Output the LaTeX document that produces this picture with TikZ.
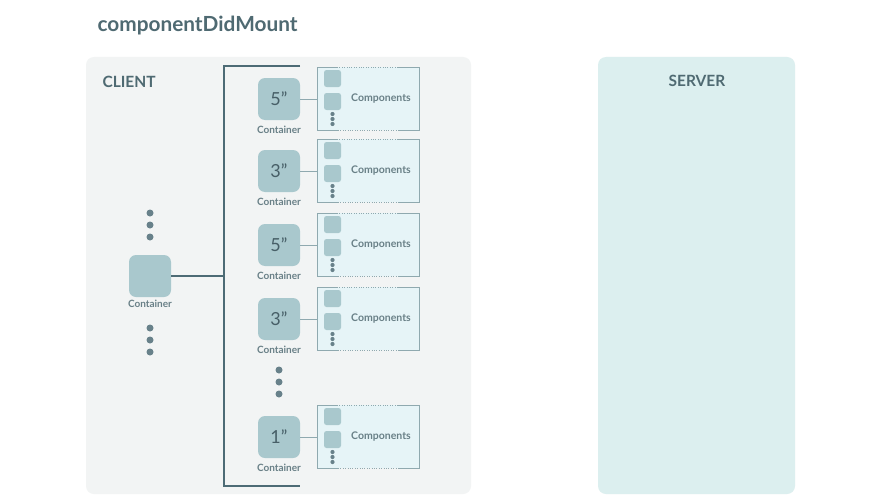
\documentclass[tikz,border=0pt]{standalone}
\usepackage{fontspec}
\setmainfont{Lato}
\definecolor{clientbg}{HTML}{F2F4F4}
\definecolor{serverbg}{HTML}{DCEFEF}
\definecolor{cont}{HTML}{A9C8CD}
\definecolor{dark}{HTML}{4D6B75}
\definecolor{txt}{HTML}{4F6A72}
\definecolor{compbg}{HTML}{E6F4F7}
\definecolor{compline}{HTML}{8FA9AF}
\begin{document}
\begin{tikzpicture}[x=1pt,y=-1pt,
  panel/.style={rounded corners=8pt, draw=none},
  contbox/.style={fill=cont, rounded corners=7pt, minimum width=42pt, minimum height=42pt, inner sep=0pt, font=\fontsize{18}{18}\selectfont, text=txt!90!black},
  smallbox/.style={fill=cont, rounded corners=2.5pt, minimum width=17pt, minimum height=17pt, inner sep=0pt},
  lbl/.style={font=\fontsize{10}{10}\selectfont\bfseries, text=txt!85},
  dot/.style={circle, fill=dark!85, inner sep=0pt, minimum size=7pt},
  sdot/.style={circle, fill=dark!85, inner sep=0pt, minimum size=4.2pt},
  link/.style={draw=compline, line width=1pt},
  bracket/.style={draw=dark, line width=1.6pt}
]
\useasboundingbox (0,0) rectangle (880,495);
\fill[white] (0,0) rectangle (880,495);
\node[anchor=west, font=\fontsize{20.8}{21}\selectfont\bfseries, text=txt] (title) at (94,26) {componentDidMount};
\fill[clientbg, panel] (86,57) rectangle (471,494);
\fill[serverbg, panel] (598,57) rectangle (795,494);
\node[anchor=west, font=\fontsize{15.5}{16}\selectfont\bfseries, text=txt] (client) at (99,82) {CLIENT};
\node[font=\fontsize{15.5}{16}\selectfont\bfseries, text=txt] (server) at (697,81) {SERVER};
% bracket
\coordinate (bt) at (224,66);
\coordinate (bb) at (224,486);
\coordinate (btr) at (300,66);
\coordinate (bbr) at (300,486);
\coordinate (bmid) at (224,276);
\draw[bracket] (btr) -- (bt) -- (bb) -- (bbr);
% left container
\node[contbox] (lc) at (150,276) {};
\node[lbl] (lcl) at (150,304) {Container};
\draw[bracket, line width=1.4pt] (lc.east) -- (bmid);
\foreach \i/\yy in {1/213,2/225,3/237} \node[dot] (ua\i) at (150,\yy) {};
\foreach \i/\yy in {1/328,2/340,3/352} \node[dot] (ub\i) at (150,\yy) {};
\foreach \i/\yy in {1/370,2/382,3/394} \node[dot] (md\i) at (279,\yy) {};
% rows
\foreach \r/\c/\t in {1/99/5,2/171/3,3/245/5,4/319/3,5/437/1}{
  \node[contbox] (c\r) at (279,\c) {\t”};
  \node[lbl] (cl\r) at (279,\c+31) {Container};
  \fill[compbg] (317,\c-32) rectangle (419,\c+31);
  \draw[compline, line width=0.4pt, dotted] (317,\c-32) rectangle (419,\c+31);
  \draw[compline, line width=1pt] (338,\c-32) -- (317,\c-32) -- (317,\c+31) -- (338,\c+31);
  \draw[compline, line width=1pt] (398,\c-32) -- (419,\c-32) -- (419,\c+31) -- (398,\c+31);
  \coordinate (k\r) at (317,\c);
  \node[smallbox] (sa\r) at (332.5,\c-20.5) {};
  \node[smallbox] (sb\r) at (332.5,\c+2.5) {};
  \node[sdot] (d1\r) at (332.5,\c+15) {};
  \node[sdot] (d2\r) at (332.5,\c+20) {};
  \node[sdot] (d3\r) at (332.5,\c+25) {};
  \node[font=\fontsize{10.5}{11}\selectfont\bfseries, text=txt!85] (ct\r) at (381,\c) {Components};
  \draw[link] (c\r.east) -- (k\r);
}
\end{tikzpicture}
\end{document}
